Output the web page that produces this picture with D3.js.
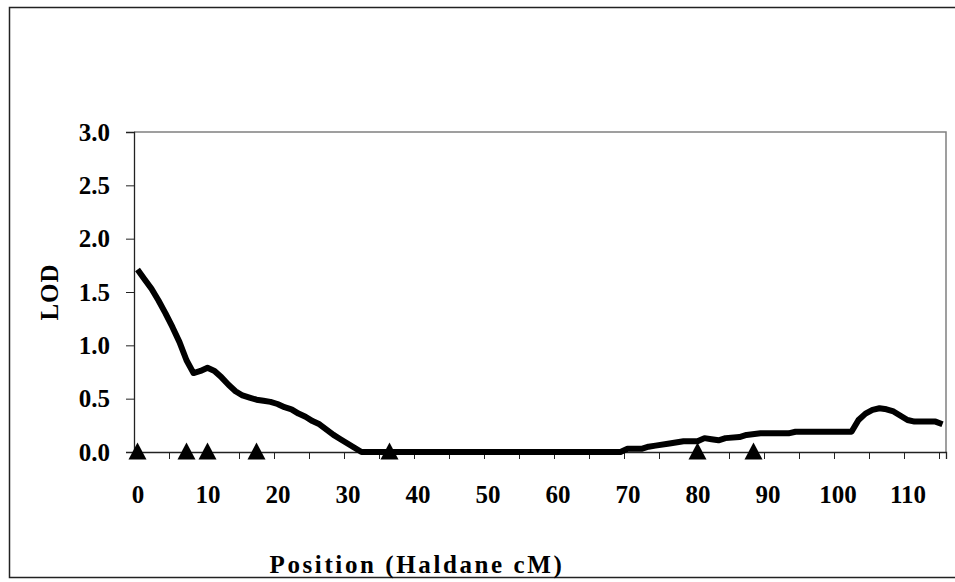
<!DOCTYPE html>
<html>
<head>
<meta charset="utf-8">
<script src="https://cdn.jsdelivr.net/npm/d3@7"></script>
<style>
  body { margin: 0; background: #fff; }
  text { font-family: "Liberation Serif", "Times New Roman", serif; font-weight: bold; }
</style>
</head>
<body>
<svg id="chart" width="955" height="582"></svg>
<script>
// LOD profile (position in Haldane cM, LOD)
const positions = [0, 1, 2, 3, 4, 5, 6, 7, 8, 9, 10, 11, 12, 13, 14, 15, 16, 17, 18, 19,
  20, 21, 22, 23, 24, 25, 26, 27, 28, 29, 30, 31, 32, 69, 70, 72, 73, 74, 76, 78,
  80, 81, 82, 83, 84, 86, 87, 89, 93, 94, 102, 103, 104, 105, 106, 107, 108, 109, 110,
  111, 112, 113, 114, 115]
const lodValues = [1.71, 1.62, 1.53, 1.42, 1.30, 1.17, 1.03, 0.86, 0.74, 0.76, 0.79, 0.76,
  0.70, 0.63, 0.57, 0.53, 0.51, 0.49, 0.48, 0.47, 0.45, 0.42, 0.40, 0.36, 0.33, 0.29,
  0.26, 0.21, 0.16, 0.12, 0.08, 0.04, 0.0, 0.0, 0.03, 0.03, 0.05, 0.06, 0.08, 0.10,
  0.10, 0.13, 0.12, 0.11, 0.13, 0.14, 0.16, 0.175, 0.175, 0.19, 0.19, 0.30, 0.36,
  0.395, 0.41, 0.40, 0.38, 0.34, 0.30, 0.285, 0.285, 0.285, 0.285, 0.26]

// marker positions (triangles on the axis)
const markers = [0, 7, 10, 17, 36, 80, 88]

// axis ticks
const yTicks = [0, 0.5, 1, 1.5, 2, 2.5, 3]
const xLabels = [0, 10, 20, 30, 40, 50, 60, 70, 80, 90, 100, 110]
const xTickMarks = d3.range(24).map(k => -0.5 + 5 * k)

const svg = d3.select('#chart')

// chart area border
svg.append('rect')
  .attr('x', 9.5).attr('y', 7.5)
  .attr('width', 960).attr('height', 570)
  .attr('fill', 'none')
  .attr('stroke', '#222').attr('stroke-width', 1.5)

const x = d3.scaleLinear().domain([-0.5, 115.5]).range([134, 946])
const y = d3.scaleLinear().domain([0, 3]).range([452, 132])

// plot area frame (top + right are grey)
svg.append('path')
  .attr('d', 'M' + x(-0.5) + ',' + y(3) + 'H' + x(115.5) + 'V' + y(0))
  .attr('fill', 'none')
  .attr('stroke', '#808080').attr('stroke-width', 1.5)

// y axis
const yAxis = svg.append('g')
  .attr('transform', 'translate(' + x(-0.5) + ',0)')
  .call(d3.axisLeft(y).tickValues(yTicks).tickSize(8).tickPadding(16)
    .tickFormat(d3.format('.1f')))
yAxis.select('.domain').attr('stroke', '#222').attr('stroke-width', 1.3)
yAxis.selectAll('.tick line').attr('stroke', '#222')
yAxis.selectAll('.tick text')
  .attr('font-size', 25).attr('fill', '#000')
  .attr('font-family', '"Liberation Serif", serif').attr('font-weight', 'bold')

// x axis: tick marks between categories
const xAxis = svg.append('g')
  .attr('transform', 'translate(0,' + y(0) + ')')
  .call(d3.axisBottom(x).tickValues(xTickMarks).tickSize(7).tickFormat(''))
xAxis.select('.domain').attr('stroke', '#222').attr('stroke-width', 1.3)
xAxis.selectAll('.tick line').attr('stroke', '#222')

// x labels
const xLab = svg.append('g')
  .attr('transform', 'translate(0,' + y(0) + ')')
  .call(d3.axisBottom(x).tickValues(xLabels).tickSize(0).tickPadding(33))
xLab.select('.domain').remove()
xLab.selectAll('.tick text')
  .attr('font-size', 25).attr('fill', '#000')
  .attr('font-family', '"Liberation Serif", serif').attr('font-weight', 'bold')

// axis titles
svg.append('text')
  .attr('x', 417).attr('y', 573)
  .attr('text-anchor', 'middle')
  .attr('font-size', 25)
  .attr('letter-spacing', 2.6)
  .text('Position (Haldane cM)')

svg.append('text')
  .attr('transform', 'translate(58,292) rotate(-90)')
  .attr('text-anchor', 'middle')
  .attr('font-size', 25)
  .attr('letter-spacing', 1)
  .text('LOD')

// LOD curve
const data = positions.map((p, i) => ({ pos: p, lod: lodValues[i] }))
const line = d3.line()
  .x(d => x(d.pos))
  .y(d => y(d.lod))

svg.append('path')
  .datum(data)
  .attr('d', line)
  .attr('fill', 'none')
  .attr('stroke', '#000')
  .attr('stroke-width', 6)
  .attr('stroke-linejoin', 'round')

// marker triangles
svg.selectAll('.marker')
  .data(markers)
  .enter()
  .append('path')
  .attr('class', 'marker')
  .attr('d', function (d) {
    let cx = x(d)
    let cy = y(0)
    return 'M' + (cx - 9) + ',' + (cy + 7.5) + 'L' + (cx + 9) + ',' + (cy + 7.5) + 'L' + cx + ',' + (cy - 9.5) + 'Z'
  })
  .attr('fill', '#000')
</script>
</body>
</html>
